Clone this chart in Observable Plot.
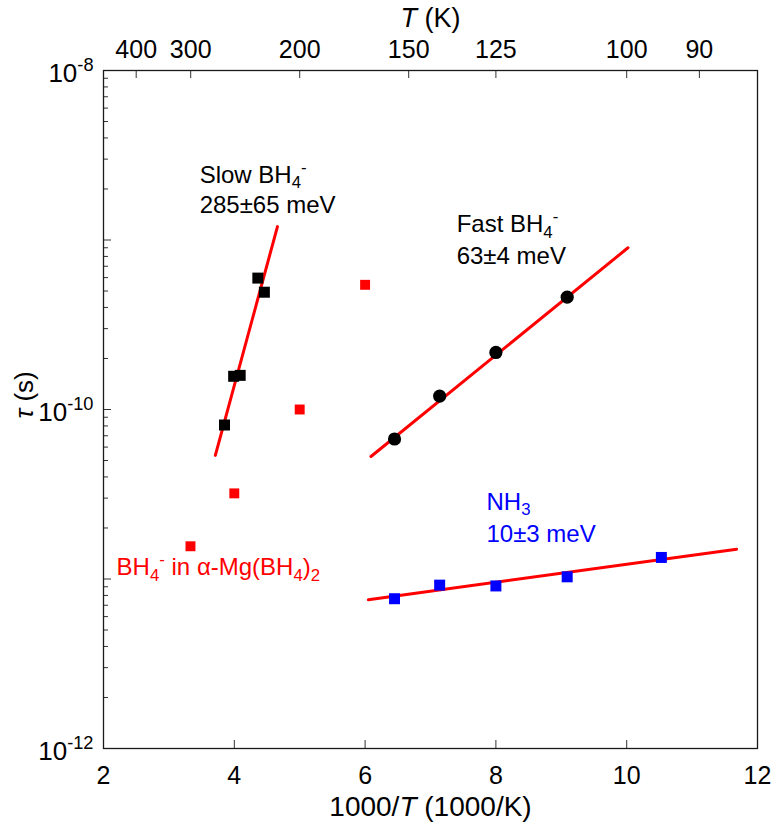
<!DOCTYPE html>
<html><head><meta charset="utf-8">
<script src="https://cdn.jsdelivr.net/npm/d3@7"></script>
<script src="https://cdn.jsdelivr.net/npm/@observablehq/plot@0.6"></script>
<style>body{margin:0;background:#fff} #chart svg{display:block}</style>
</head><body><div id="chart"></div>
<script>
// ---- data (x = 1000/T in 1000/K, tau in s) ----
const slowX   = [3.85, 3.99, 4.09, 4.36, 4.46];
const slowTau = [8.1e-11, 1.57e-10, 1.59e-10, 5.96e-10, 4.92e-10];
const slowFitX   = [3.71, 4.66];
const slowFitTau = [5.36e-11, 1.20e-9];

const fastX   = [6.45, 7.14, 8.0, 9.09];
const fastTau = [6.7e-11, 1.2e-10, 2.17e-10, 4.6e-10];
const fastFitX   = [6.09, 10.02];
const fastFitTau = [5.28e-11, 9.0e-10];

const nh3X   = [6.45, 7.14, 8.0, 9.09, 10.53];
const nh3Tau = [7.65e-12, 9.2e-12, 9.1e-12, 1.03e-11, 1.34e-11];
const nh3FitX   = [6.05, 11.68];
const nh3FitTau = [7.55e-12, 1.5e-11];

const mgX   = [3.33, 4.0, 5.0, 6.0];
const mgTau = [1.56e-11, 3.2e-11, 1.0e-10, 5.44e-10];

// ---- axis ticks / labels ----
const xTicks = [2, 4, 6, 8, 10, 12];
const topTickT = [400, 300, 200, 150, 125, 100, 90];
const yLabelTicks = [1e-12, 1e-10, 1e-8];
const yLabelText = ["10{^-12}", "10{^-10}", "10{^-8}"];
const yMajor = [1e-12, 1e-11, 1e-10, 1e-9, 1e-8];
const yMinor = [];
for (let e = -12; e < -8; e++) for (let m = 2; m <= 9; m++) yMinor.push(m * Math.pow(10, e));

// ---- annotations ----
const notes = [
  {text: "Slow BH{_4}{^-}", x: 3.47, tau: 2.18e-9, color: "#000"},
  {text: "285±65 meV",      x: 3.47, tau: 1.44e-9, color: "#000"},
  {text: "Fast BH{_4}{^-}", x: 7.40, tau: 1.11e-9, color: "#000"},
  {text: "63±4 meV",        x: 7.40, tau: 7.24e-10, color: "#000"},
  {text: "NH{_3}",          x: 7.856, tau: 2.57e-11, color: "#0000ff"},
  {text: "10±3 meV",        x: 7.856, tau: 1.66e-11, color: "#0000ff"},
  {text: "BH{_4}{^-} in α-Mg(BH{_4}){_2}", x: 2.2, tau: 1.05e-11, color: "#ff0000"}
];

const rows = (xs, ts) => xs.map((x, i) => ({x, tau: ts[i]}));
const topPos = topTickT.map(t => 1000 / t);
const FONT = "'Liberation Sans', Arial, Helvetica, sans-serif";

const plot = Plot.plot({
  width: 773, height: 825,
  marginLeft: 103, marginRight: 16, marginTop: 70, marginBottom: 77,
  style: {fontFamily: FONT, fontSize: "24px", background: "#fff", color: "#000"},
  x: {domain: [2, 12], axis: null},
  y: {type: "log", domain: [1e-12, 1e-8], axis: null},
  marks: [
    Plot.tickX(xTicks, {x: d => d, insetTop: 670, stroke: "#333", strokeWidth: 1}),
    Plot.tickX(topPos, {x: d => d, insetBottom: 670, stroke: "#333", strokeWidth: 1}),
    Plot.tickY(yMajor, {y: d => d, insetRight: 646, stroke: "#333", strokeWidth: 1}),
    Plot.tickY(yMinor, {y: d => d, insetRight: 649, stroke: "#333", strokeWidth: 1}),
    Plot.frame({stroke: "#1a1a1a", strokeWidth: 1.3}),

    Plot.line(rows(slowFitX, slowFitTau), {x: "x", y: "tau", stroke: "#ff0000", strokeWidth: 3}),
    Plot.line(rows(fastFitX, fastFitTau), {x: "x", y: "tau", stroke: "#ff0000", strokeWidth: 3}),
    Plot.line(rows(nh3FitX, nh3FitTau), {x: "x", y: "tau", stroke: "#ff0000", strokeWidth: 3}),

    Plot.dot(rows(mgX, mgTau), {x: "x", y: "tau", symbol: "square", r: 5.6, fill: "#ff0000", stroke: null}),
    Plot.dot(rows(slowX, slowTau), {x: "x", y: "tau", symbol: "square", r: 6.2, fill: "#000", stroke: null}),
    Plot.dot(rows(fastX, fastTau), {x: "x", y: "tau", symbol: "circle", r: 6.6, fill: "#000", stroke: null}),
    Plot.dot(rows(nh3X, nh3Tau), {x: "x", y: "tau", symbol: "square", r: 6.2, fill: "#0000ff", stroke: null}),

    Plot.text(notes, {x: "x", y: "tau", text: "text", fill: "color", textAnchor: "start", lineAnchor: "bottom", fontSize: 24}),

    // axis labels
    Plot.text(xTicks, {x: d => d, text: d => String(d), frameAnchor: "bottom", dy: 35, lineAnchor: "bottom", fontSize: 25}),
    Plot.text(topPos, {x: d => d, text: (d, i) => String(topTickT[i]), frameAnchor: "top", dy: -13, lineAnchor: "bottom", fontSize: 25}),
    Plot.text(yLabelTicks, {y: d => d, text: (d, i) => yLabelText[i], frameAnchor: "left", dx: -10, dy: 3, textAnchor: "end", fontSize: 26}),
    Plot.text(["1000/{iT} (1000/K)"], {x: 7, text: d => d, frameAnchor: "bottom", dy: 67, lineAnchor: "bottom", fontSize: 28}),
    Plot.text(["{iT} (K)"], {x: 7, text: d => d, frameAnchor: "top", dy: -44, lineAnchor: "bottom", fontSize: 27}),
    Plot.text(["{iτ} (s)"], {y: 1e-10, text: d => d, frameAnchor: "left", dx: -79, dy: 9, rotate: -90, fontSize: 26})
  ]
});

document.getElementById("chart").appendChild(plot);

// rich text: {_x} subscript, {^x} superscript, {ix} italic
function richify(svg) {
  svg.querySelectorAll("text").forEach(t => {
    const s = t.textContent;
    if (!s.includes("{")) return;
    const fs = parseFloat(getComputedStyle(t).fontSize) || 24;
    while (t.firstChild) t.removeChild(t.firstChild);
    const re = /\{([_^i])([^}]*)\}|([^{]+)/g;
    let m, cur = 0;
    while ((m = re.exec(s))) {
      const ts = document.createElementNS("http://www.w3.org/2000/svg", "tspan");
      let target = 0;
      if (m[3] !== undefined) {
        ts.textContent = m[3];
      } else {
        ts.textContent = m[2];
        if (m[1] === "_") { target = 0.22 * fs; ts.setAttribute("font-size", (0.7 * fs) + "px"); }
        else if (m[1] === "^") { target = -0.42 * fs; ts.setAttribute("font-size", (0.7 * fs) + "px"); }
        else { ts.setAttribute("font-style", "italic"); }
      }
      if (target !== cur) ts.setAttribute("dy", (target - cur).toFixed(2));
      cur = target;
      t.appendChild(ts);
    }
  });
}
richify(plot);
</script></body></html>
